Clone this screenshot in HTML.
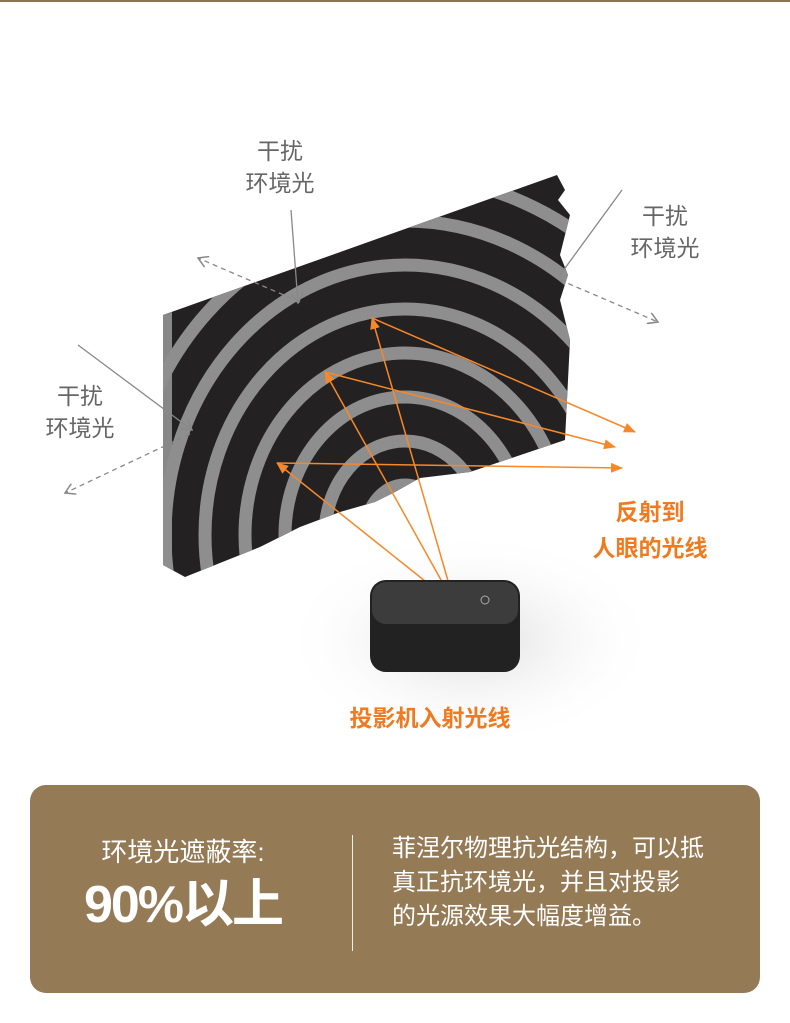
<!DOCTYPE html>
<html><head><meta charset="utf-8"><style>
body{margin:0;background:#fff;width:790px;height:1023px;position:relative;overflow:hidden;font-family:"Liberation Sans","Noto Sans CJK SC",sans-serif}
.t{position:absolute;color:#666;font-size:23px;line-height:32px;text-align:center}
.o{position:absolute;color:#f07a1f;font-size:23px;font-weight:bold;line-height:36px;text-align:center}
</style></head><body>
<div style="position:absolute;left:0;top:0;width:790px;height:2px;background:#8b7355"></div>
<svg width="790" height="780" style="position:absolute;left:0;top:0">
<defs>
<clipPath id="c"><polygon points="163,315 557,175 565,190 558,200 570,215 560,255 568,275 560,300 570,340 565,440 470,472 420,478 395,492 375,502 340,512 300,527 260,547 185,577 163,565"/></clipPath>
<radialGradient id="sh" cx="0.5" cy="0.5" r="0.5"><stop offset="0" stop-color="#ddd"/><stop offset="1" stop-color="#fff" stop-opacity="0"/></radialGradient>
<marker id="a" markerWidth="12" markerHeight="10" refX="11" refY="5" orient="auto" markerUnits="userSpaceOnUse"><path d="M0,0L12,5L0,10z" fill="#f7882a"/></marker>
<marker id="g" markerWidth="12" markerHeight="12" refX="10" refY="6" orient="auto" markerUnits="userSpaceOnUse"><path d="M0,0L10,6L0,12" fill="none" stroke="#888" stroke-width="1.5"/></marker>
</defs>
<ellipse cx="470" cy="640" rx="190" ry="110" fill="url(#sh)"/>
<polygon points="163,315 557,175 565,190 558,200 570,215 560,255 568,275 560,300 570,340 565,440 470,472 420,478 395,492 375,502 340,512 300,527 260,547 185,577 163,565" fill="#242122"/>
<polygon points="163,315 172,312 172,568 163,565" fill="#888"/>
<g clip-path="url(#c)" fill="none" stroke="#8e8e8e" stroke-width="13">
<ellipse cx="405" cy="535" rx="40" ry="50"/>
<ellipse cx="405" cy="535" rx="80" ry="94"/>
<ellipse cx="405" cy="535" rx="120" ry="138"/>
<ellipse cx="405" cy="535" rx="160" ry="182"/>
<ellipse cx="405" cy="535" rx="200" ry="226"/>
<ellipse cx="405" cy="535" rx="240" ry="270"/>
<ellipse cx="405" cy="535" rx="280" ry="314"/>
<ellipse cx="405" cy="535" rx="320" ry="358"/>
</g>
<g stroke="#f7882a" stroke-width="1.5" fill="none">
<line x1="455" y1="605" x2="372" y2="318" marker-end="url(#a)"/>
<line x1="455" y1="605" x2="325" y2="372" marker-end="url(#a)"/>
<line x1="455" y1="605" x2="277" y2="463" marker-end="url(#a)"/>
<line x1="372" y1="318" x2="635" y2="432" marker-end="url(#a)"/>
<line x1="325" y1="372" x2="615" y2="447" marker-end="url(#a)"/>
<line x1="277" y1="463" x2="622" y2="468" marker-end="url(#a)"/>
</g>
<rect x="370" y="580" width="150" height="92" rx="16" fill="#222"/>
<rect x="372" y="582" width="146" height="42" rx="14" fill="#3c3c3c"/>
<circle cx="485" cy="600" r="4" fill="none" stroke="#aaa"/>
<g stroke="#888" stroke-width="1.3" fill="none">
<line x1="291" y1="210" x2="298" y2="303" marker-end="url(#g)"/>
<line x1="300" y1="302" x2="198" y2="258" stroke-dasharray="5,4" marker-end="url(#g)"/>
<line x1="622" y1="190" x2="560" y2="275"/>
<line x1="560" y1="280" x2="658" y2="322" stroke-dasharray="5,4" marker-end="url(#g)"/>
<line x1="78" y1="345" x2="192" y2="430" marker-end="url(#g)"/>
<line x1="190" y1="434" x2="65" y2="493" stroke-dasharray="5,4" marker-end="url(#g)"/>
</g>
</svg>
<div class="t" style="left:230px;top:135px;width:100px">干扰<br>环境光</div>
<div class="t" style="left:615px;top:200px;width:100px">干扰<br>环境光</div>
<div class="t" style="left:30px;top:380px;width:100px">干扰<br>环境光</div>
<div class="o" style="left:570px;top:494px;width:160px">反射到<br>人眼的光线</div>
<div class="o" style="left:310px;top:700px;width:240px">投影机入射光线</div>
<div style="position:absolute;left:30px;top:785px;width:730px;height:208px;background:#957a56;border-radius:16px"></div>
<div style="position:absolute;left:352px;top:835px;width:1px;height:116px;background:#eee"></div>
<div style="position:absolute;left:60px;top:832px;width:246px;text-align:center;color:#fff;font-size:26px">环境光遮蔽率:</div>
<div style="position:absolute;left:60px;top:872px;width:246px;text-align:center;color:#fff;font-size:52px;font-weight:bold;line-height:66px;letter-spacing:-2px">90%以上</div>
<div style="position:absolute;left:392px;top:832px;width:360px;color:#fff;font-size:24px;line-height:34px">菲涅尔物理抗光结构，可以抵<br>真正抗环境光，并且对投影<br>的光源效果大幅度增益。</div>
</body></html>
